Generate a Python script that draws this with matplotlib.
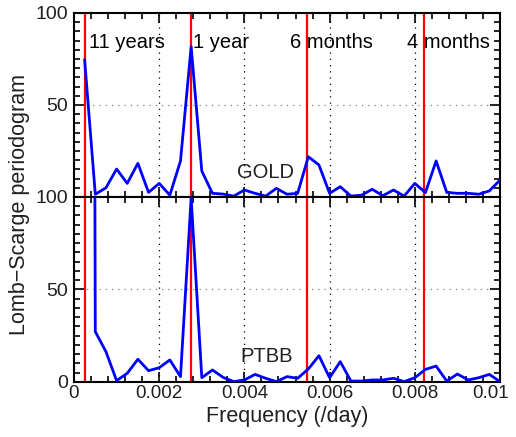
import numpy as np
import matplotlib.pyplot as plt
from matplotlib.ticker import MultipleLocator
from matplotlib.transforms import ScaledTranslation

plt.rcParams['font.family'] = ['Liberation Sans', 'DejaVu Sans']

# frequency grid (/day), step 0.00025
freq = 0.00025 * np.arange(1, 41)

gold = [74.5, 1.5, 5.0, 15.2, 7.4, 18.3, 2.5, 7.4, 1.0, 19.6,
        81.7, 14.1, 2.0, 1.6, 0.5, 3.8, 2.0, 0.5, 4.7, 1.5,
        2.0, 21.9, 17.4, 2.0, 5.6, 0.5, 1.0, 4.2, 0.7, 3.8,
        0.5, 7.4, 2.4, 19.6, 2.5, 2.0, 2.0, 1.5, 3.3, 9.2]

ptbb = [2000.0, 27.2, 16.4, 0.7, 4.7, 12.3, 6.1, 7.7, 11.9, 2.9,
        99.5, 2.3, 6.5, 2.5, 0.2, 1.1, 4.1, 2.0, 0.2, 2.9,
        2.0, 7.0, 14.2, 2.3, 11.0, 0.5, 0.5, 1.1, 1.1, 2.0,
        0.2, 2.3, 6.8, 8.6, 0.5, 4.3, 1.1, 2.3, 4.1, 0.2]

# periods marked with red lines
periods = [11 * 365.25, 365.25, 365.25 / 2, 365.25 / 3]
period_names = ['11 years', '1 year', '6 months', '4 months']
name_x = [0.00035, 0.00279, 0.00507, 0.00781]

xticks = [0, 0.002, 0.004, 0.006, 0.008, 0.01]
xticklabels = ['0', '0.002', '0.004', '0.006', '0.008', '0.01']

txt = '#231f20'

fig = plt.figure(figsize=(5.16, 4.37), dpi=100)
ax1 = fig.add_axes([0.1434, 0.5492, 0.8256, 0.4211])
ax2 = fig.add_axes([0.1434, 0.1259, 0.8256, 0.4233])


def style(ax):
    ax.set_xlim(0, 0.01)
    ax.set_ylim(0, 100)
    ax.xaxis.set_major_locator(MultipleLocator(0.002))
    ax.xaxis.set_minor_locator(MultipleLocator(0.0004))
    ax.yaxis.set_major_locator(MultipleLocator(50))
    ax.yaxis.set_minor_locator(MultipleLocator(5))
    ax.tick_params(which='both', direction='in', top=True, right=True,
                   width=1.2, colors='black', labelcolor=txt, labelsize=14)
    ax.tick_params(which='major', length=7)
    ax.tick_params(which='minor', length=4)
    ax.tick_params(axis='x', pad=2, labelsize=13.5)
    ax.tick_params(axis='y', pad=4)
    for s in ax.spines.values():
        s.set_linewidth(1.5)
    for v in [0.002, 0.004, 0.006, 0.008]:
        ax.axvline(v, color='black', lw=0.9, ls=(0, (1, 4)), zorder=0)
    ax.axhline(50, color='gray', lw=0.9, ls=(0, (1, 4)), zorder=0)
    for p in periods:
        ax.axvline(1 / p, color='red', lw=1.6, zorder=2)


style(ax1)
style(ax2)

ax1.plot(freq, gold, color='blue', lw=2, zorder=3)
ax2.plot(freq, ptbb, color='blue', lw=2, zorder=3)

ax1.set_xticks(xticks)
ax1.set_xticklabels([])
ax1.set_yticks([0, 50, 100])
ax1.set_yticklabels(['', '50', '100'])
ax2.set_xticks(xticks)
ax2.set_xticklabels(xticklabels)
ax2.set_yticks([0, 50, 100])
ax2.set_yticklabels(['0', '50', '100'])

# last label sits against the right edge, shift it in a bit
last = ax2.get_xticklabels()[-1]
last.set_transform(last.get_transform() + ScaledTranslation(-0.09, 0, fig.dpi_scale_trans))

for name, x in zip(period_names, name_x):
    ax1.text(x, 81, name, fontsize=14.5, color='black', va='baseline', ha='left')

ax1.text(0.00382, 10.3, 'GOLD', fontsize=14.5, color=txt, va='baseline')
ax2.text(0.0039, 11, 'PTBB', fontsize=14.5, color=txt, va='baseline')

ax2.set_xlabel('Frequency (/day)', fontsize=15.5, color=txt, labelpad=3)
fig.text(0.037, 0.531, 'Lomb\u2212Scarge periodogram', rotation=90,
         fontsize=15.5, color=txt, ha='center', va='center')

plt.savefig('out.png', dpi=100)
